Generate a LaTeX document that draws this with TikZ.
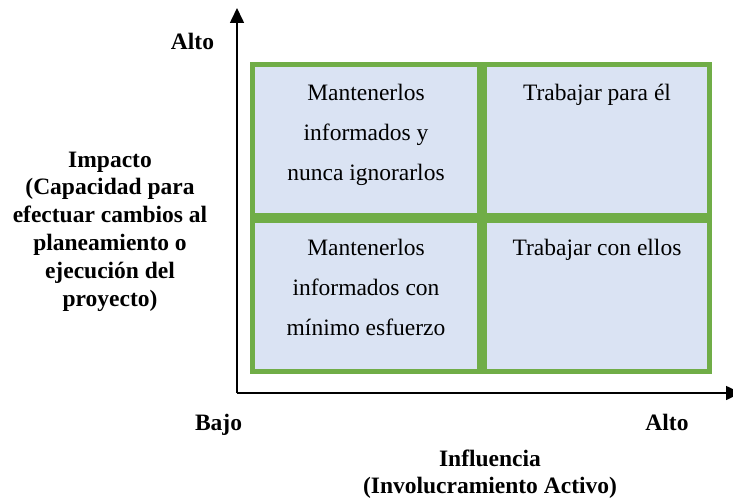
\documentclass[tikz,border=0pt]{standalone}
\usepackage{fontspec}
\setmainfont{Liberation Serif}
\usetikzlibrary{arrows.meta}
\definecolor{cellgreen}{HTML}{70AD47}
\definecolor{cellblue}{HTML}{DAE3F3}
\begin{document}
\begin{tikzpicture}[x=1pt,y=-1pt,
  cellbox/.style={draw=cellgreen,fill=cellblue,line width=5pt,inner sep=0pt},
  celltext/.style={anchor=north,inner sep=0pt,align=center,font=\fontsize{23.5}{40}\selectfont},
  axlabel/.style={inner sep=0pt,font=\fontsize{23.5}{27.8}\selectfont\bfseries,align=center},
  axisline/.style={line width=1.6pt,-{Triangle[length=15pt,width=14pt]}}
]
\useasboundingbox (0,0) rectangle (733,500);
% cells
\draw[cellbox] (252.5,64.5) rectangle (479,215);
\draw[cellbox] (484,64.5) rectangle (709.5,215);
\draw[cellbox] (252.5,220) rectangle (479,371.5);
\draw[cellbox] (484,220) rectangle (709.5,371.5);
\coordinate (c1) at (366,84);
\coordinate (c2) at (597,84);
\coordinate (c3) at (366,239);
\coordinate (c4) at (597,239);
\node[celltext] (t1) at (c1) {Mantenerlos\\informados y\\nunca ignorarlos};
\node[celltext] (t2) at (c2) {Trabajar para él};
\node[celltext] (t3) at (c3) {Mantenerlos\\informados con\\mínimo esfuerzo};
\node[celltext] (t4) at (c4) {Trabajar con ellos};
% axes
\coordinate (o) at (237,393);
\coordinate (ytop) at (237,8);
\coordinate (xend) at (741,393);
\draw[axisline] (o) -- (ytop);
\draw[axisline] (o) -- (xend);
% labels
\node[axlabel,anchor=base] (altoy) at (192.5,50) {Alto};
\node[axlabel,anchor=base] (bajo) at (218.5,430) {Bajo};
\node[axlabel,anchor=base] (altox) at (667,430) {Alto};
\node[axlabel,anchor=north] (impacto) at (110,151.5) {Impacto\\(Capacidad para\\efectuar cambios al\\planeamiento o\\ejecución del\\proyecto)};
\node[axlabel,anchor=north,font=\fontsize{23.5}{27}\selectfont\bfseries] (influencia) at (490,450) {Influencia\\(Involucramiento Activo)};
\end{tikzpicture}
\end{document}
